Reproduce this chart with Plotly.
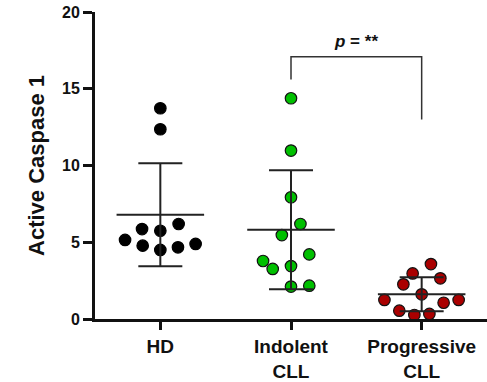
import numpy as np
import plotly.graph_objects as go

categories = ["HD", "Indolent<br>CLL", "Progressive<br>CLL"]
hd_values = [13.73, 12.36, 5.15, 5.86, 5.75, 6.19, 4.78, 4.50, 4.67, 4.89]
indolent_values = [14.38, 10.97, 7.93, 6.19, 5.47, 3.78, 3.26, 3.45, 4.21, 2.11, 2.17]
progressive_values = [3.58, 2.97, 2.65, 2.26, 1.61, 1.24, 1.06, 1.24, 0.54, 0.26, 0.33]
y_ticks = [0, 5, 10, 15, 20]

# horizontal scatter offsets (category units) for the dot plot
hd_jitter = [0, 0, -0.27, -0.14, 0, 0.14, -0.135, 0, 0.135, 0.27]
indolent_jitter = [0, 0, 0, 0.072, -0.07, -0.214, -0.14, 0, 0.14, 0, 0.14]
progressive_jitter = [0.071, -0.069, 0.143, -0.14, 0, -0.285, 0.168, 0.283, -0.171, -0.056, 0.059]

groups = [
    (hd_values, hd_jitter, "#000000", "#000000"),
    (indolent_values, indolent_jitter, "#00c000", "#111111"),
    (progressive_values, progressive_jitter, "#aa0000", "#111111"),
]

fig = go.Figure()
line_col = "#222222"
for i, (vals, jit, fill, edge) in enumerate(groups):
    fig.add_trace(go.Scatter(
        x=[i + j for j in jit], y=vals, mode="markers",
        marker=dict(size=11.5, color=fill, line=dict(color=edge, width=1.2)),
        showlegend=False, cliponaxis=False))

for i, (vals, jit, fill, edge) in enumerate(groups):
    m = float(np.mean(vals))
    sd = float(np.std(vals, ddof=1))
    fig.add_trace(go.Scatter(
        x=[i - 0.335, i + 0.335], y=[m, m], mode="lines",
        line=dict(color=line_col, width=2), showlegend=False))
    fig.add_trace(go.Scatter(
        x=[i], y=[m], mode="markers", marker=dict(size=1, color="rgba(0,0,0,0)"),
        error_y=dict(type="data", array=[sd], visible=True, color=line_col,
                     thickness=2, width=22),
        showlegend=False))

# significance bracket between Indolent and Progressive
fig.add_shape(type="path", xref="x", yref="y",
              path="M 1,15.6 L 1,17.09 L 2,17.09 L 2,13.0",
              line=dict(color="#333333", width=1.5))
fig.add_annotation(x=1.5, y=18.1, xref="x", yref="y", showarrow=False,
                   text="<b><i>p</i> = **</b>",
                   font=dict(family="Liberation Sans, Arial", size=17, color="#111111"))

fig.update_layout(
    width=487, height=382,
    margin=dict(l=95, r=0, t=12, b=63),
    plot_bgcolor="white", paper_bgcolor="white",
    font=dict(family="Liberation Sans, Arial", color="#111111"),
    xaxis=dict(range=[-0.5, 2.5], tickmode="array", tickvals=[0, 1, 2],
               ticktext=["<b>%s</b>" % c for c in categories],
               showline=True, linewidth=3, linecolor="#111111",
               ticks="outside", ticklen=8, tickwidth=3, tickcolor="#111111",
               tickfont=dict(size=19), showgrid=False, zeroline=False),
    yaxis=dict(range=[0, 20], tickmode="array", tickvals=y_ticks,
               ticktext=["<b>%d</b>" % t for t in y_ticks],
               showline=True, linewidth=3, linecolor="#111111",
               ticks="outside", ticklen=9, tickwidth=3, tickcolor="#111111",
               tickfont=dict(size=16), showgrid=False, zeroline=False,
               title=dict(text="<b>Active Caspase 1</b>", font=dict(size=22), standoff=12)),
)

fig.write_html("out.html")
